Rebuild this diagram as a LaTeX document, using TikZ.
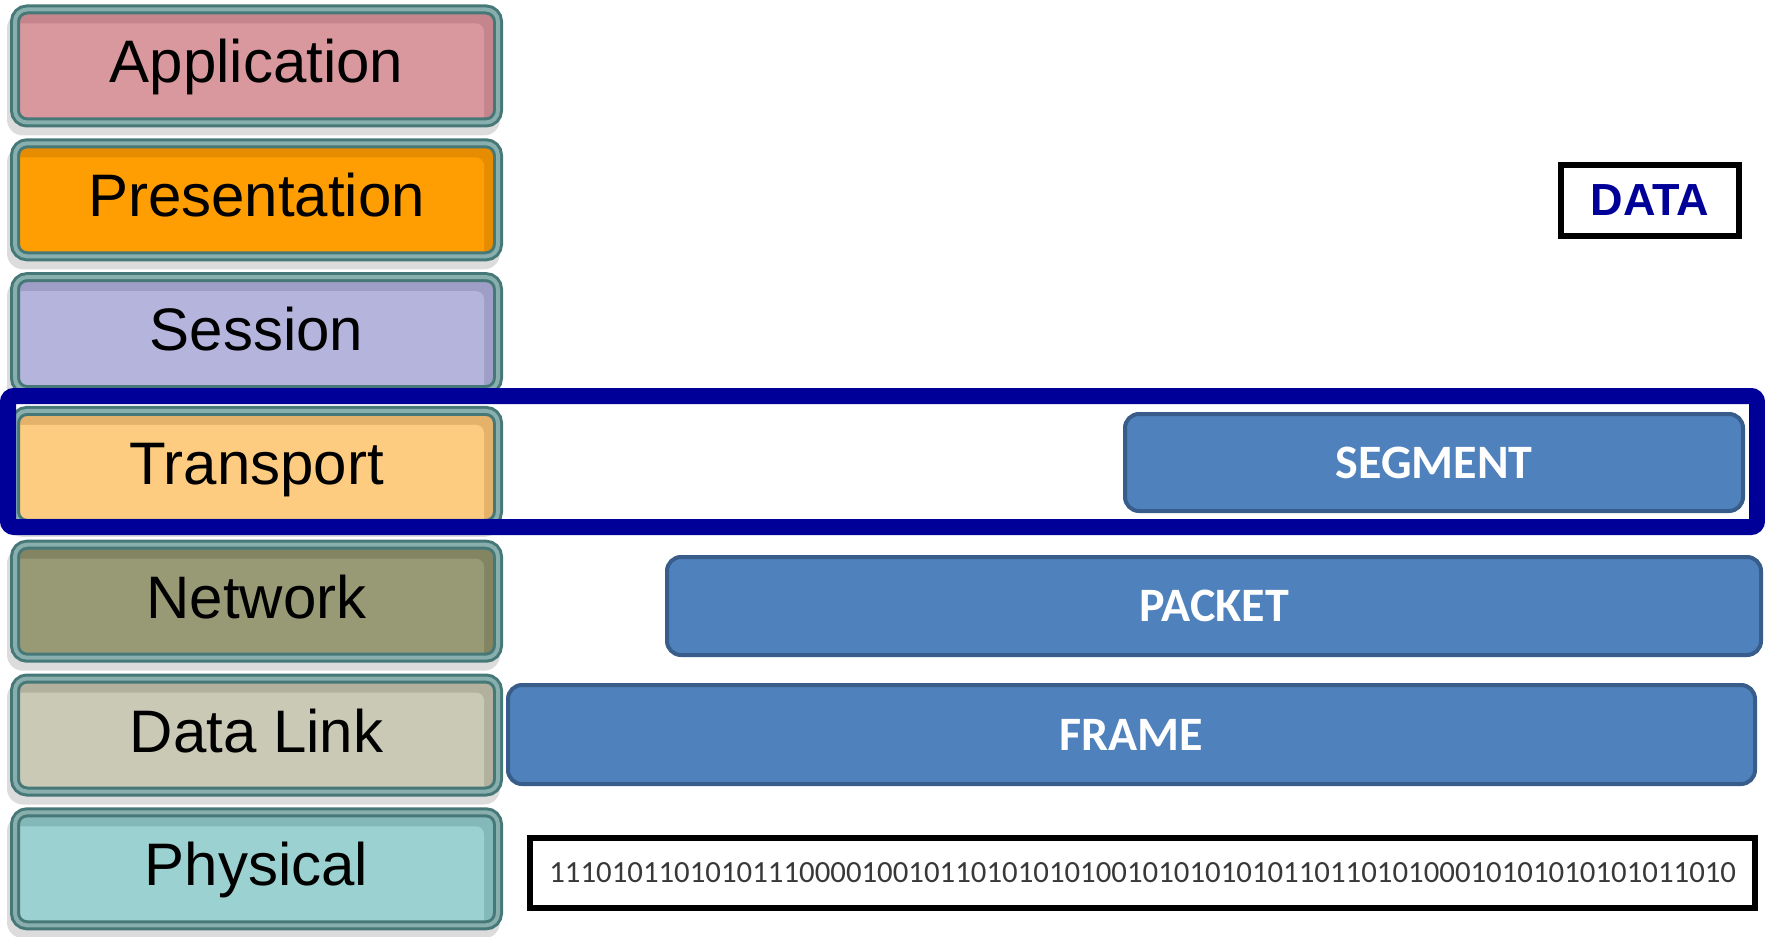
\documentclass[tikz,border=0pt]{standalone}
\usepackage{fontspec}
\setmainfont{Liberation Sans}
\newfontfamily\calibri{Carlito}
\usetikzlibrary{backgrounds}

% OSI layer colours (main face / darker rim)
\definecolor{appmain}{HTML}{D9989E}  \definecolor{apprim}{HTML}{C4868C}
\definecolor{presmain}{HTML}{FF9E02} \definecolor{presrim}{HTML}{E58C00}
\definecolor{sessmain}{HTML}{B4B4DC} \definecolor{sessrim}{HTML}{9E9EC6}
\definecolor{transmain}{HTML}{FDCC80}\definecolor{transrim}{HTML}{E4B26A}
\definecolor{netmain}{HTML}{989A76}  \definecolor{netrim}{HTML}{838562}
\definecolor{dlmain}{HTML}{CAC9B6}   \definecolor{dlrim}{HTML}{B2B19E}
\definecolor{physmain}{HTML}{9CD1D1} \definecolor{physrim}{HTML}{84B9B9}
\definecolor{tealline}{HTML}{467878}
\definecolor{tealmid}{HTML}{88AEAD}
\definecolor{shadowc}{HTML}{DCDCDC}
\definecolor{navyframe}{RGB}{0,0,153}
\definecolor{pdufill}{HTML}{4F81BD}
\definecolor{pduline}{HTML}{385D8A}

\tikzset{
  layer/.style 2 args={
    draw=tealline, double=tealmid, double distance=2pt, line width=1.5pt,
    rounded corners=6pt, fill=#2, outer sep=0pt, inner sep=0pt,
    minimum width=241.5pt, minimum height=56.5pt,
    font=\fontsize{30}{36}\selectfont, text height=22.5pt, text depth=5.5pt,
    path picture={\fill[#1, rounded corners=4pt]
      ([xshift=-1pt,yshift=-1pt]path picture bounding box.south west) rectangle
      ([xshift=-7pt,yshift=-7pt]path picture bounding box.north east);}
  },
  pdu/.style={
    draw=pduline, line width=2pt, fill=pdufill, rounded corners=7pt,
    inner sep=0pt, outer sep=0pt, minimum height=49pt, text=white,
    font=\calibri\bfseries\fontsize{24}{28}\selectfont
  },
  focusbox/.style={
    draw=navyframe, line width=8pt, rounded corners=3pt, inner sep=0pt
  },
  blackbox/.style={
    draw=black, line width=3pt, inner sep=0pt
  }
}

\begin{document}
\begin{tikzpicture}[x=0.5pt,y=-0.5pt]
\useasboundingbox (0,0) rectangle (1765,936);

% the seven OSI layers
\node[layer={appmain}{apprim}]     (app)   at (256.5,66)    {Application};
\node[layer={presmain}{presrim}]   (pres)  at (256.5,199.8) {Presentation};
\node[layer={sessmain}{sessrim}]   (sess)  at (256.5,333.6) {Session};
\node[layer={transmain}{transrim}] (trans) at (256.5,467.4) {Transport};
\node[layer={netmain}{netrim}]     (net)   at (256.5,601.2) {Network};
\node[layer={dlmain}{dlrim}]       (dlink) at (256.5,735)   {Data Link};
\node[layer={physmain}{physrim}]   (phys)  at (256.5,868.8) {Physical};

% soft grey drop shadows behind the layers
\begin{scope}[on background layer]
  \foreach \n in {app,pres,sess,trans,net,dlink,phys}
    \fill[shadowc, rounded corners=8pt]
      ([xshift=-4pt,yshift=-6.5pt]\n.south west) rectangle
      ([xshift=1pt,yshift=-1.5pt]\n.north east);
\end{scope}

% highlight around the transport row
\node[focusbox, minimum width=874.5pt, minimum height=65.5pt] (focus) at (882.5,461.5) {};

% protocol data units
\node[blackbox, minimum width=89pt, minimum height=35.5pt, text=navyframe,
      font=\bfseries\fontsize{22.5}{27}\selectfont] (data) at (1650,200.5) {DATA};
\node[pdu, minimum width=309pt, minimum height=48.5pt] (segment) at (1434,462.5)  {SEGMENT};
\node[pdu, minimum width=547pt]                        (packet)  at (1214,606)    {PACKET};
\node[pdu, minimum width=623.5pt, minimum height=49.5pt] (frame) at (1131.5,734.5) {FRAME};
\node[blackbox, minimum width=612.5pt, minimum height=35pt, text=black!78,
      font=\calibri\fontsize{15.4}{18}\selectfont] (bits) at (1142.5,873)
      {1110101101010111000010010110101010100101010101011011010100010101010101011010};
\end{tikzpicture}
\end{document}
